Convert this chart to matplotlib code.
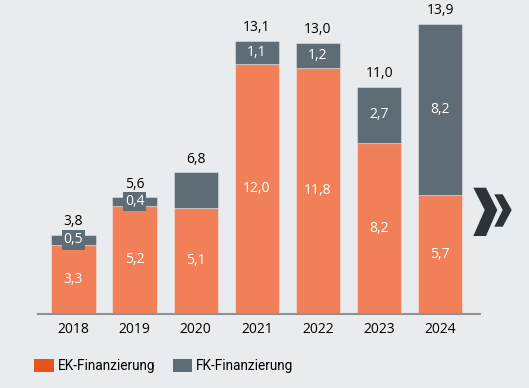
import matplotlib
matplotlib.use('Agg')
import matplotlib.pyplot as plt
from matplotlib.patches import Polygon, Patch

years = ['2018', '2019', '2020', '2021', '2022', '2023', '2024']
ek = [3.3, 5.2, 5.1, 12.0, 11.8, 8.2, 5.7]
fk = [0.5, 0.4, 1.7, 1.1, 1.2, 2.7, 8.2]
totals = [3.8, 5.6, 6.8, 13.1, 13.0, 11.0, 13.9]
fk_labels = ['0,5', '0,4', None, '1,1', '1,2', '2,7', '8,2']

BG = '#e9ecef'
ORANGE = '#f18058'
GRAY = '#5e6c76'
LEG_ORANGE = '#e5541b'
DARK = '#2d3439'

plt.rcParams['font.family'] = ['Open Sans', 'DejaVu Sans']

W, H = 529, 388
fig = plt.figure(figsize=(W / 100, H / 100), dpi=100, facecolor=BG)
ax = fig.add_axes([38 / W, 74 / H, 442 / W, 314 / H])
ax.set_facecolor(BG)

x = range(len(years))
edge = (1, 1, 1, 0.35)
ax.bar(x, ek, width=0.725, color=ORANGE, edgecolor=edge, linewidth=0.8)
ax.bar(x, fk, width=0.725, bottom=ek, color=GRAY, edgecolor=edge, linewidth=0.8)

def fmt(v):
    return f'{v:.1f}'.replace('.', ',')

for i in x:
    ax.text(i, ek[i] / 2, fmt(ek[i]), ha='center', va='center', color='white', fontsize=10)
    if fk_labels[i]:
        kw = {}
        if fk[i] < 1:
            kw['bbox'] = dict(boxstyle='square,pad=0.15', fc=GRAY, ec='none')
        ax.text(i, ek[i] + fk[i] / 2, fk_labels[i], ha='center', va='center',
                color='white', fontsize=10, **kw)
    ax.annotate(fmt(totals[i]), (i, ek[i] + fk[i]), xytext=(0, 4), textcoords='offset points',
                ha='center', va='bottom', color='black', fontsize=10)

ax.set_xlim(-0.58, 6.65)
ax.set_ylim(0, 15.05)
ax.set_xticks(list(x))
ax.set_xticklabels(years, fontsize=10)
ax.tick_params(axis='x', length=0, pad=6)
ax.set_yticks([])
for s in ['top', 'right', 'left']:
    ax.spines[s].set_visible(False)
ax.spines['bottom'].set_color('#8f9294')
ax.spines['bottom'].set_linewidth(1.5)

# chevron decoration (pixel coords)
def px(pts):
    return [(px_ / W, 1 - py / H) for px_, py in pts]

big = [(473.3, 187.7), (486, 187.7), (497.3, 210), (486, 236), (473.3, 236), (484.7, 210)]
small = [(494.3, 194.3), (502.7, 194.3), (511.7, 210), (502.7, 226.7), (494.3, 226.7), (502.7, 210)]
fig.patches.append(Polygon(px(big), closed=True, transform=fig.transFigure, fc=DARK, ec='none'))
fig.patches.append(Polygon(px(small), closed=True, transform=fig.transFigure, fc=DARK, ec='none'))

handles = [Patch(fc=LEG_ORANGE, ec='none', label='EK-Finanzierung'),
           Patch(fc=GRAY, ec='none', label='FK-Finanzierung')]
fig.legend(handles=handles, loc='center left', bbox_to_anchor=(0.042, 0.057), ncol=2,
           frameon=False, prop={'family': 'Roboto', 'size': 9.8}, handlelength=1.4,
           handleheight=1.1, handletextpad=0.3, columnspacing=1.3)

fig.savefig('out.png', dpi=100, facecolor=BG)
